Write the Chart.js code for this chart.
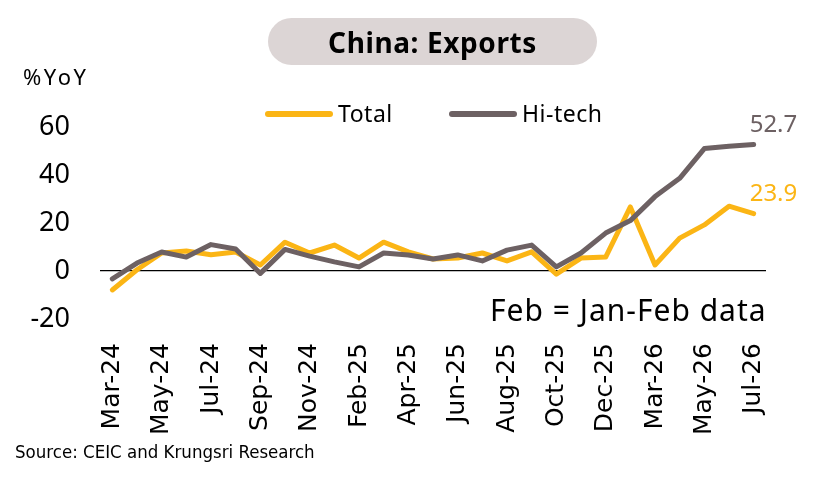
<!DOCTYPE html>
<html>
<head>
<meta charset="utf-8">
<script src="https://cdn.jsdelivr.net/npm/chart.js@4"></script>
<style>
  body { margin: 0; background: #fff; }
  #wrap { position: relative; width: 840px; height: 483px; overflow: hidden; font-family: "Noto Sans", sans-serif; }
  #wrap canvas { position: absolute; left: 0; top: 0; }
  .txt { position: absolute; white-space: nowrap; color: #000; }
  #title { position: absolute; left: 268px; top: 18px; width: 329px; height: 47px; border-radius: 24px;
           background: #dcd5d5; display: flex; align-items: center; justify-content: center;
           font-weight: bold; font-size: 28px; letter-spacing: 0.6px; }
  .key { position: absolute; height: 6px; width: 68px; border-radius: 3px; }
</style>
</head>
<body>
<div id="wrap">
  <canvas id="exportsChart" width="840" height="483"></canvas>
  <div id="title">China: Exports</div>
  <div class="txt" style="left:23px; top:61px; font-size:22px; line-height:30px; letter-spacing:2.5px;">%YoY</div>
  <div class="key" style="left:265px; top:111px; background:#fbb515;"></div>
  <div class="txt" style="left:338px; top:98px; font-size:23px; line-height:30px; letter-spacing:0.5px;">Total</div>
  <div class="key" style="left:449px; top:111px; background:#6d6163;"></div>
  <div class="txt" style="left:522px; top:98px; font-size:23px; line-height:30px; letter-spacing:0.5px;">Hi-tech</div>
  <div class="txt" style="left:490px; top:291px; font-size:30px; line-height:38px; letter-spacing:1px;">Feb = Jan-Feb data</div>
  <div class="txt" style="left:15px; top:440px; font-size:18.5px; line-height:24px; font-family:'DejaVu Sans Condensed','Liberation Sans Narrow',sans-serif;">Source: CEIC and Krungsri Research</div>
</div>
<script>
// Jan is folded into Feb (Jan-Feb data), so there is no Jan point
var months = ['Mar-24', 'Apr-24', 'May-24', 'Jun-24', 'Jul-24', 'Aug-24', 'Sep-24', 'Oct-24', 'Nov-24', 'Dec-24',
              'Feb-25', 'Mar-25', 'Apr-25', 'May-25', 'Jun-25', 'Jul-25', 'Aug-25', 'Sep-25', 'Oct-25', 'Nov-25', 'Dec-25',
              'Feb-26', 'Mar-26', 'Apr-26', 'May-26', 'Jun-26', 'Jul-26'];
var totalYoY = [-7.9, 0.5, 7.5, 8.3, 6.8, 7.9, 2.5, 12.0, 7.5, 10.8,
                5.4, 12.0, 8.0, 5.0, 5.4, 7.5, 4.2, 8.0, -1.3, 5.4, 5.8,
                26.7, 2.5, 13.7, 19.2, 27.0, 23.9];
var hitechYoY = [-3.3, 3.3, 7.9, 5.8, 11.0, 9.2, -1.0, 9.0, 6.2, 3.8,
                 1.7, 7.5, 6.7, 5.0, 6.7, 4.2, 8.7, 10.8, 1.7, 7.5, 15.8,
                 21.0, 31.0, 38.6, 51.0, 52.0, 52.7];
var yMin = -20, yMax = 60, yStep = 20;

// value label at the end of each line
var endLabels = {
  id: 'endLabels',
  afterDatasetsDraw: function (chart) {
    var ctx = chart.ctx;
    ctx.save();
    ctx.font = '24px "Noto Sans", sans-serif';
    ctx.textAlign = 'left';
    ctx.textBaseline = 'middle';
    chart.data.datasets.forEach(function (ds, i) {
      var pts = chart.getDatasetMeta(i).data;
      var last = pts[pts.length - 1];
      ctx.fillStyle = ds.borderColor;
      ctx.fillText(ds.data[ds.data.length - 1].toFixed(1), last.x - 4, last.y - 19);
    });
    ctx.restore();
  }
};

var ctx = document.getElementById('exportsChart').getContext('2d');
var exportsChart = new Chart(ctx, {
  type: 'line',
  data: {
    labels: months,
    datasets: [
      { label: 'Total', data: totalYoY, borderColor: '#fbb515', order: 1 },
      { label: 'Hi-tech', data: hitechYoY, borderColor: '#6d6163', order: 0 }
    ]
  },
  options: {
    responsive: false,
    animation: false,
    layout: { padding: { left: 0, right: 74, top: 127, bottom: 0 } },
    elements: {
      line: { borderWidth: 5, tension: 0, borderCapStyle: 'round', borderJoinStyle: 'round' },
      point: { radius: 0 }
    },
    plugins: { legend: { display: false }, tooltip: { enabled: false } },
    scales: {
      x: {
        offset: true,
        grid: { display: false },
        border: { display: false },
        afterFit: function (scale) { scale.height = 164; },
        ticks: {
          autoSkip: false,
          minRotation: 90,
          maxRotation: 90,
          padding: 16,
          color: '#000',
          font: { family: 'DejaVu Sans', size: 25 },
          callback: function (v, i) { return i % 2 === 0 ? months[i] : ''; }
        }
      },
      y: {
        min: yMin,
        max: yMax,
        border: { display: false },
        afterFit: function (scale) { scale.width = 100; },
        grid: {
          drawTicks: false,
          lineWidth: 1.3,
          color: function (c) { return c.tick && c.tick.value === 0 ? '#000' : 'rgba(0,0,0,0)'; }
        },
        ticks: {
          stepSize: yStep,
          padding: 30,
          color: '#000',
          font: { family: 'Noto Sans', size: 27 }
        }
      }
    }
  },
  plugins: [endLabels]
});
</script>
</body>
</html>
